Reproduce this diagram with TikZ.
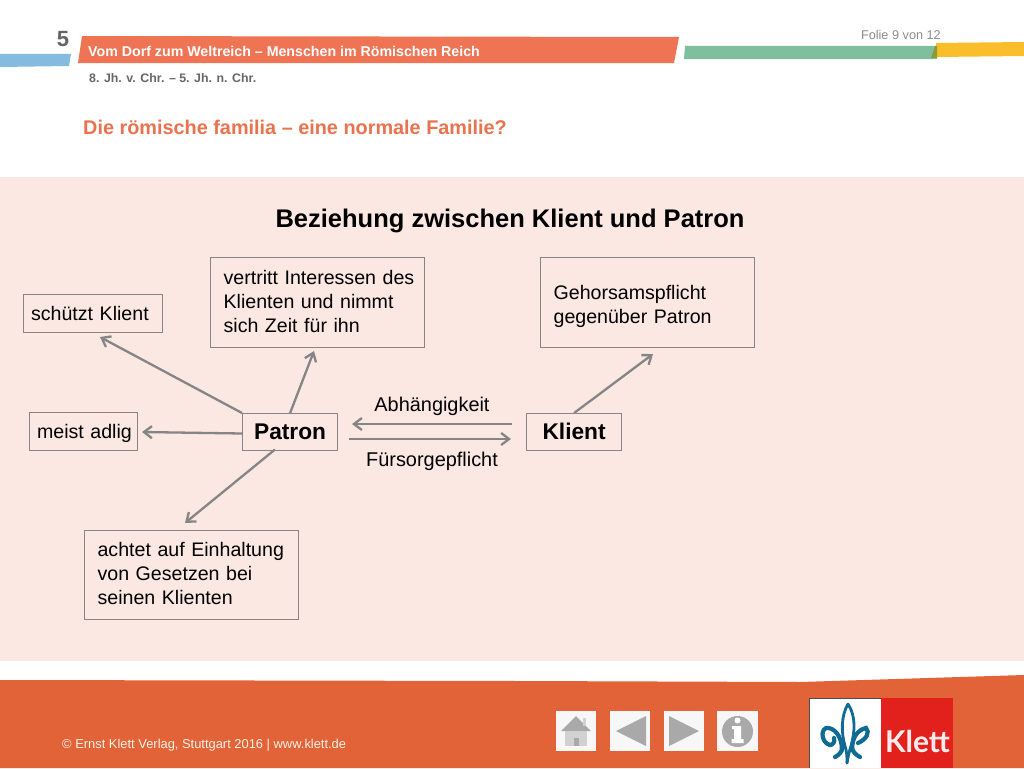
\documentclass[tikz,border=0pt]{standalone}
\usepackage{fontspec}
\setmainfont{Liberation Sans}
\newfontfamily\klettfont{Lato}
\usetikzlibrary{arrows.meta}
\definecolor{bgpink}{HTML}{FCE8E2}
\definecolor{footer}{HTML}{E26338}
\definecolor{barred}{HTML}{EE7453}
\definecolor{barblue}{HTML}{86BBE0}
\definecolor{bargreen}{HTML}{7FBF9D}
\definecolor{baryellow}{HTML}{FBBE2B}
\definecolor{bardark}{HTML}{8C9B3A}
\definecolor{titlered}{HTML}{E9724F}
\definecolor{greytext}{HTML}{666666}
\definecolor{boxline}{HTML}{858585}
\definecolor{icongrey}{HTML}{A9A9A9}
\definecolor{klettblue}{HTML}{0F6A94}
\definecolor{klettred}{HTML}{E2201C}
\tikzset{
  infobox/.style={draw=boxline,line width=1.2pt,fill=bgpink,align=left,anchor=north west,inner ysep=0pt,font=\fontsize{19.6}{24}\selectfont,text=black},
  keybox/.style={draw=boxline,line width=1.2pt,fill=bgpink,anchor=north west,inner sep=0pt,font=\fontsize{22.7}{28}\selectfont\bfseries,text=black},
  conn/.style={draw=boxline,line width=2.3pt,-{Straight Barb[length=8pt,width=12pt,line width=2.3pt]}},
  lbl/.style={inner sep=0pt,font=\fontsize{19.9}{24}\selectfont,text=black},
  iconbox/.style={fill=white!97!black,minimum width=40pt,minimum height=40pt,inner sep=0pt,anchor=north west}
}
\begin{document}
\begin{tikzpicture}[x=1pt,y=-1pt]
\useasboundingbox (0,0) rectangle (1024,768);
\fill[white] (0,0) rectangle (1024,768);
% panels
\fill[bgpink] (0,177) rectangle (1024,661);
\fill[footer] (0,680) -- (520,681) -- (800,682) -- (1024,675) -- (1024,768) -- (0,768) -- cycle;
% header bars
\fill[barblue] (0,54) -- (71,54) -- (69,66) -- (0,67) -- cycle;
\fill[barred] (82,36) -- (679,37) -- (674,63) -- (78,63) -- cycle;
\fill[bargreen] (685,46) -- (936,46) -- (937,59) -- (684,59) -- cycle;
\fill[baryellow] (936,43) -- (1024,42) -- (1024,56) -- (937,57) -- cycle;
\fill[bardark] (935,46) -- (937,46) -- (937,58) -- (931,58) -- cycle;
% header text
\node[inner sep=0pt,text=greytext,font=\fontsize{22}{26}\selectfont\bfseries] (chap) at (63,39) {5};
\node[inner sep=0pt,anchor=west,text=white,font=\fontsize{14.2}{16}\selectfont\bfseries] (head) at (88,51) {Vom Dorf zum Weltreich – Menschen im Römischen Reich};
\node[inner sep=0pt,anchor=west,text=greytext,font=\fontsize{12.35}{15}\selectfont\bfseries] (period) at (89,78) {8. Jh. v. Chr. – 5. Jh. n. Chr.};
\node[inner sep=0pt,anchor=west,text=titlered,font=\fontsize{19.85}{24}\selectfont\bfseries] (topic) at (83,127) {Die römische familia – eine normale Familie?};
\node[inner sep=0pt,anchor=east,text=black!45,font=\fontsize{12.7}{15}\selectfont] (folie) at (941,35) {Folie 9 von 12};
% diagram title
\node[inner sep=0pt,text=black,font=\fontsize{25.5}{30}\selectfont\bfseries] (title) at (510,220.5) {Beziehung zwischen Klient und Patron};
% boxes
\node[infobox,text width=123pt,inner xsep=8pt,minimum height=38pt] (schuetzt) at (22.5,294) {\mbox{schützt Klient}};
\node[infobox,text width=188pt,inner xsep=13pt,minimum height=89.5pt] (vertritt) at (210,257) {\mbox{vertritt Interessen des}\\\mbox{Klienten und nimmt}\\\mbox{sich Zeit für ihn}\rule[-2pt]{0pt}{0pt}};
\node[infobox,text width=188pt,inner xsep=13pt,minimum height=89.5pt] (gehorsam) at (540,257) {\rule{0pt}{22pt}\mbox{Gehorsamspflicht}\\\mbox{gegenüber Patron}};
\node[infobox,text width=93pt,inner xsep=7.5pt,minimum height=37.5pt] (adlig) at (29,412) {\rule{0pt}{17.5pt}\mbox{meist adlig}};
\node[keybox,minimum width=95pt,minimum height=36.5pt] (patron) at (242,413) {Patron};
\node[keybox,minimum width=95pt,minimum height=36.5pt] (klient) at (526,413) {Klient};
\node[infobox,text width=188pt,inner xsep=13pt,minimum height=89pt] (achtet) at (84,530) {\mbox{achtet auf Einhaltung}\\\mbox{von Gesetzen bei}\\\mbox{seinen Klienten}\rule[-4pt]{0pt}{0pt}};
% labels
\node[lbl] (abh) at (432,406.5) {Abhängigkeit};
\node[lbl] (fuer) at (432,461.5) {Fürsorgepflicht};
% free ends
\coordinate (eS) at (100,337);
\coordinate (eV) at (314,351);
\coordinate (eA) at (142,432);
\coordinate (eE) at (185,523);
\coordinate (eG) at (653,354);
\coordinate (aS) at (512,424);
\coordinate (aE) at (352,424);
\coordinate (bS) at (349,439);
\coordinate (bE) at (511,439);
\coordinate (pW) at (242,433.5);
\coordinate (pS) at (275,449.5);
% connectors
\draw[conn] (patron.north west) -- (eS);
\draw[conn] (patron.north) -- (eV);
\draw[conn] (pW) -- (eA);
\draw[conn] (pS) -- (eE);
\draw[conn] (klient.north) -- (eG);
\draw[conn] (aS) -- (aE);
\draw[conn] (bS) -- (bE);
% footer
\node[inner sep=0pt,anchor=west,text=white!90!orange,font=\fontsize{12.9}{16}\selectfont] (copy) at (62,745.5) {© Ernst Klett Verlag, Stuttgart 2016 | www.klett.de};
% icons
\node[iconbox] (home) at (556,711) {};
\node[iconbox] (prev) at (610,711) {};
\node[iconbox] (next) at (664,711) {};
\node[iconbox,minimum width=41pt] (info) at (717,711) {};
\fill[icongrey] (561,731) -- (576,716) -- (591,731) -- cycle;
\fill[black!18] (583,718) rectangle (586,726);
\fill[black!18] (565,731) rectangle (587,746);
\fill[icongrey] (574,738) rectangle (579,746);
\fill[icongrey] (616,731) -- (646,716) -- (646,746) -- cycle;
\fill[icongrey] (669,716) -- (699,731) -- (669,746) -- cycle;
\fill[icongrey] (737.5,731.5) circle (15.5);
\fill[white] (737.5,720.5) circle (3);
\fill[white] (732,726) -- (741,726) -- (741,739) -- (743.5,739) -- (743.5,743) -- (731.5,743) -- (731.5,739) -- (734,739) -- (734,729) -- (732,729) -- cycle;
% logo
\fill[white] (809,698) rectangle (882,768);
\draw[black!70,line width=.7pt] (809,768) -- (809,698) -- (881,698);
\fill[klettred] (881,698) rectangle (953,768);
\node[inner sep=0pt,text=white!92!red,font=\klettfont\bfseries\fontsize{30}{34}\selectfont] (klett) at (917.5,741) {Klett};
\begin{scope}[draw=klettblue,fill=none,line width=4.2pt,line cap=round]
\draw[line width=2.8pt] (848,704) .. controls (841,716) and (841,732) .. (845,746) .. controls (847,752) and (847,757) .. (847,763);
\draw[line width=2.8pt] (848,704) .. controls (856,716) and (855,732) .. (851,746) .. controls (849,752) and (848,757) .. (847,763);
\draw (842,750) .. controls (842,736) and (834,727) .. (826,728) .. controls (820,731) and (822,743) .. (830,745) .. controls (833,745) and (835,742) .. (834,738);
\draw (835,757) .. controls (839,755) and (842,752) .. (842,748);
\draw (852,750) .. controls (852,738) and (857,730) .. (866,728) .. controls (870,732) and (867,739) .. (858,743);
\draw (860,757) .. controls (856,755) and (853,752) .. (852,748);
\end{scope}
\end{tikzpicture}
\end{document}
